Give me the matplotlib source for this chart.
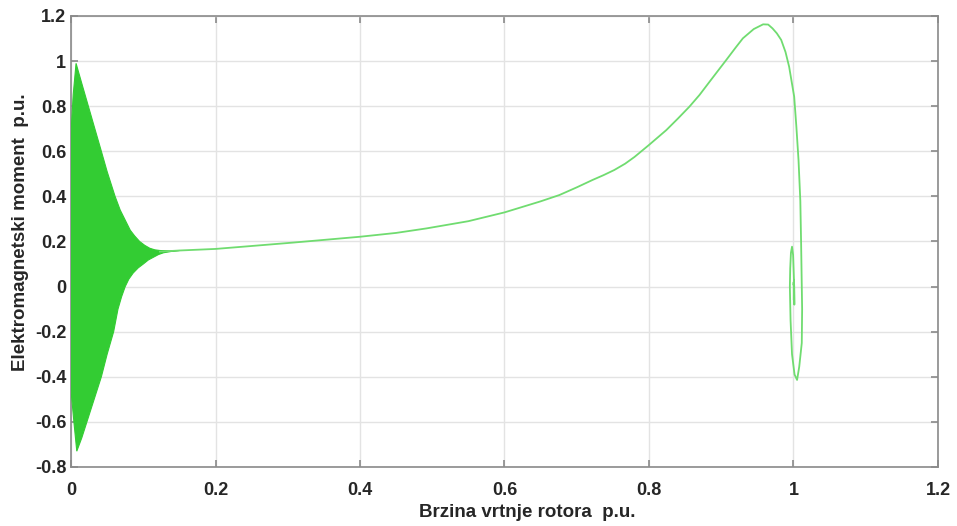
import numpy as np
import matplotlib
matplotlib.use("Agg")
import matplotlib.pyplot as plt

# Oscillating start-up region: envelope
env_upper_x = [0.0, 0.003, 0.007, 0.015, 0.024, 0.033, 0.042, 0.050, 0.056, 0.061, 0.068, 0.075,
               0.082, 0.088, 0.095, 0.102, 0.109, 0.116, 0.123, 0.137, 0.150]
env_upper_y = [0.68, 0.85, 0.99, 0.90, 0.80, 0.70, 0.60, 0.51, 0.45, 0.40, 0.34, 0.295,
               0.25, 0.225, 0.20, 0.183, 0.17, 0.163, 0.16, 0.158, 0.16]
env_lower_x = [0.0, 0.004, 0.008, 0.015, 0.022, 0.032, 0.042, 0.050, 0.059, 0.065, 0.070, 0.075,
               0.080, 0.086, 0.093, 0.100, 0.107, 0.114, 0.121, 0.128, 0.141, 0.150]
env_lower_y = [-0.46, -0.60, -0.73, -0.67, -0.60, -0.50, -0.40, -0.30, -0.20, -0.10, -0.045, 0.0,
               0.033, 0.06, 0.083, 0.10, 0.118, 0.13, 0.142, 0.15, 0.157, 0.16]

# Smooth torque-speed trajectory and final spiral around synchronous speed
speed = [0.123, 0.15, 0.2, 0.25, 0.307, 0.35, 0.4, 0.45, 0.492, 0.55, 0.6, 0.65, 0.676, 0.70,
         0.722, 0.737, 0.752, 0.767, 0.78, 0.8, 0.824, 0.84, 0.856, 0.87, 0.884, 0.895, 0.907,
         0.92, 0.930, 0.945, 0.958, 0.965, 0.971, 0.977, 0.983, 0.989, 0.994, 1.001, 1.004,
         1.007, 1.0095, 1.0106, 1.012, 1.0115, 1.008, 1.005, 1.0015, 0.998, 0.996, 0.995,
         0.9955, 0.9965, 0.998, 0.9995, 1.001, 1.0012, 1.0008, 1.0005, 1.0003, 1.0]
torque = [0.155, 0.16, 0.167, 0.18, 0.195, 0.207, 0.221, 0.238, 0.258, 0.29, 0.329, 0.378, 0.406, 0.44,
          0.473, 0.494, 0.517, 0.545, 0.575, 0.628, 0.694, 0.745, 0.798, 0.85, 0.909, 0.955, 1.005,
          1.06, 1.101, 1.142, 1.163, 1.162, 1.145, 1.123, 1.094, 1.04, 0.975, 0.842, 0.71,
          0.561, 0.38, 0.19, -0.10, -0.25, -0.355, -0.414, -0.39, -0.30, -0.15, 0.0,
          0.08, 0.15, 0.177, 0.14, 0.0, -0.08, 0.03, -0.06, 0.02, 0.01]

x_ticks = [0, 0.2, 0.4, 0.6, 0.8, 1, 1.2]
x_tick_labels = ["0", "0.2", "0.4", "0.6", "0.8", "1", "1.2"]
y_ticks = [-0.8, -0.6, -0.4, -0.2, 0, 0.2, 0.4, 0.6, 0.8, 1, 1.2]
y_tick_labels = ["-0.8", "-0.6", "-0.4", "-0.2", "0", "0.2", "0.4", "0.6", "0.8", "1", "1.2"]

plt.rcParams['font.family'] = ['Liberation Sans', 'DejaVu Sans']

fig = plt.figure(figsize=(9.57, 5.26), dpi=100)
ax = fig.add_axes([0.0742, 0.1122, 0.9059, 0.8574])

poly_x = np.concatenate([env_upper_x, env_lower_x[::-1]])
poly_y = np.concatenate([env_upper_y, env_lower_y[::-1]])
ax.fill(poly_x, poly_y, color='#33cc33', lw=0.8, ec='#33cc33', zorder=3)
ax.plot(speed, torque, color='#70dc70', lw=1.3, zorder=3, solid_joinstyle='round')

ax.set_xlim(0, 1.2)
ax.set_ylim(-0.8, 1.2)
ax.set_xticks(x_ticks)
ax.set_xticklabels(x_tick_labels)
ax.set_yticks(y_ticks)
ax.set_yticklabels(y_tick_labels)
ax.grid(True, color='#e3e3e3', lw=1.0, zorder=0)
ax.set_axisbelow(True)
for s in ax.spines.values():
    s.set_color('#8a8a8a')
    s.set_linewidth(1.2)
ax.tick_params(direction='in', length=5, width=1.2, color='#8a8a8a',
               labelsize=13, labelcolor='#262626', top=True, right=True,
               labeltop=False, labelright=False)
ax.tick_params(axis='x', pad=11)
for lab in ax.get_xticklabels() + ax.get_yticklabels():
    lab.set_fontweight('bold')

ax.set_xlabel("Brzina vrtnje rotora  p.u.", fontsize=13.5, fontweight='bold', color='#262626')
ax.set_ylabel("Elektromagnetski moment  p.u.", fontsize=13.5, fontweight='bold', color='#262626')
ax.xaxis.set_label_coords(0.526, -0.082)
ax.yaxis.set_label_coords(-0.049, 0.52)

fig.savefig("out.png", dpi=100)
